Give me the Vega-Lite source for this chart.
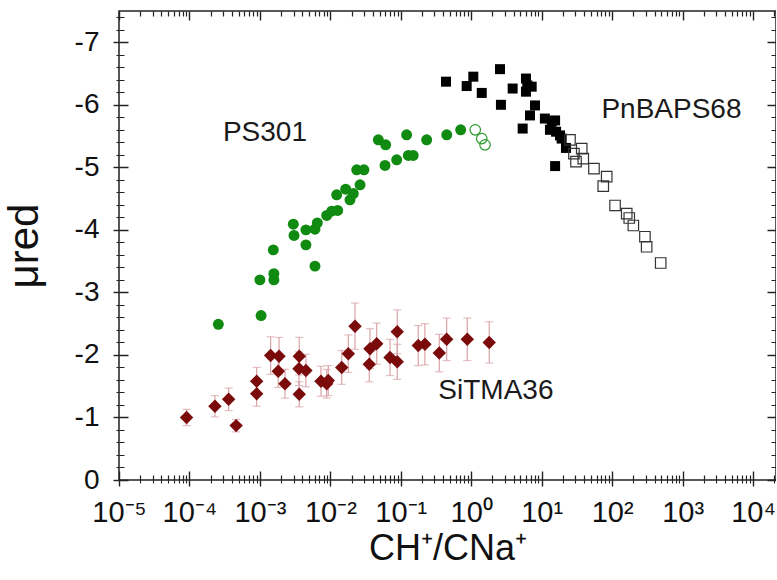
{
  "$schema": "https://vega.github.io/schema/vega-lite/v6.json",
  "width": 657,
  "height": 469,
  "autosize": "none",
  "padding": {"left": 119, "top": 11, "right": 0, "bottom": 100},
  "background": "white",
  "config": {
    "font": "Liberation Sans",
    "view": {"stroke": "#222", "strokeWidth": 1.5},
    "axis": {"domain": false, "labelColor": "#111", "titleColor": "#111", "labelFont": "Liberation Sans", "titleFont": "Liberation Sans", "titleFontWeight": "normal", "grid": false}
  },
  "datasets": {
    "ps": [
      {"x": 2.57e-4, "y": -2.49}, {"x": 1.04e-3, "y": -2.63}, {"x": 1.0e-3, "y": -3.2},
      {"x": 1.58e-3, "y": -3.2}, {"x": 1.58e-3, "y": -3.3}, {"x": 1.55e-3, "y": -3.68},
      {"x": 6.05e-3, "y": -3.42}, {"x": 4.5e-3, "y": -3.76}, {"x": 3.05e-3, "y": -3.91},
      {"x": 2.98e-3, "y": -4.09}, {"x": 4.5e-3, "y": -4.0}, {"x": 6.05e-3, "y": -4.01},
      {"x": 6.53e-3, "y": -4.11}, {"x": 8.87e-3, "y": -4.23}, {"x": 1.045e-2, "y": -4.3},
      {"x": 1.27e-2, "y": -4.31}, {"x": 1.23e-2, "y": -4.56}, {"x": 1.65e-2, "y": -4.65},
      {"x": 1.9e-2, "y": -4.48}, {"x": 2.12e-2, "y": -4.58}, {"x": 2.64e-2, "y": -4.72},
      {"x": 2.37e-2, "y": -4.96}, {"x": 3.0e-2, "y": -4.96}, {"x": 5.97e-2, "y": -5.03},
      {"x": 8.75e-2, "y": -5.12}, {"x": 0.128, "y": -5.19}, {"x": 0.15, "y": -5.19},
      {"x": 4.8e-2, "y": -5.44}, {"x": 6.1e-2, "y": -5.36}, {"x": 0.121, "y": -5.52},
      {"x": 0.233, "y": -5.44}, {"x": 0.449, "y": -5.52}, {"x": 0.708, "y": -5.6}
    ],
    "psOpen": [
      {"x": 1.14, "y": -5.6}, {"x": 1.41, "y": -5.46}, {"x": 1.57, "y": -5.36}
    ],
    "pn": [
      {"x": 0.438, "y": -6.37}, {"x": 0.861, "y": -6.3}, {"x": 1.07, "y": -6.45},
      {"x": 1.41, "y": -6.19}, {"x": 2.56, "y": -6.57}, {"x": 2.64, "y": -6.0},
      {"x": 3.87, "y": -6.26}, {"x": 5.98, "y": -6.42}, {"x": 6.25, "y": -6.31},
      {"x": 7.21, "y": -6.29}, {"x": 5.98, "y": -6.21}, {"x": 8.03, "y": -5.99},
      {"x": 6.82, "y": -5.83}, {"x": 5.37, "y": -5.62}, {"x": 11.1, "y": -5.78},
      {"x": 13.9, "y": -5.73}, {"x": 15.5, "y": -5.75}, {"x": 13.1, "y": -5.6},
      {"x": 16.0, "y": -5.57}, {"x": 18.2, "y": -5.51}, {"x": 19.2, "y": -5.46},
      {"x": 22.1, "y": -5.31}, {"x": 15.5, "y": -5.02}
    ],
    "pnOpen": [
      {"x": 25.2, "y": -5.44}, {"x": 28.7, "y": -5.22}, {"x": 37.0, "y": -5.3},
      {"x": 38.9, "y": -5.14}, {"x": 30.7, "y": -5.09}, {"x": 55.2, "y": -4.98},
      {"x": 83.7, "y": -4.85}, {"x": 74.8, "y": -4.7}, {"x": 110, "y": -4.39},
      {"x": 161, "y": -4.26}, {"x": 175, "y": -4.19}, {"x": 200, "y": -4.07},
      {"x": 292, "y": -3.89}, {"x": 309, "y": -3.73}, {"x": 489, "y": -3.47}
    ],
    "si": [
      {"x": 9.1e-5, "y": -1.0, "lo": -0.87, "hi": -1.13},
      {"x": 2.3e-4, "y": -1.18, "lo": -1.01, "hi": -1.35},
      {"x": 3.6e-4, "y": -1.29, "lo": -1.11, "hi": -1.47},
      {"x": 4.6e-4, "y": -0.87, "lo": -0.77, "hi": -0.97},
      {"x": 9.0e-4, "y": -1.58, "lo": -1.36, "hi": -1.8},
      {"x": 9.0e-4, "y": -1.38, "lo": -1.18, "hi": -1.58},
      {"x": 1.42e-3, "y": -1.99, "lo": -1.69, "hi": -2.29},
      {"x": 1.87e-3, "y": -1.98, "lo": -1.68, "hi": -2.28},
      {"x": 1.82e-3, "y": -1.74, "lo": -1.48, "hi": -2.0},
      {"x": 2.27e-3, "y": -1.54, "lo": -1.31, "hi": -1.77},
      {"x": 3.62e-3, "y": -1.98, "lo": -1.68, "hi": -2.28},
      {"x": 3.59e-3, "y": -1.78, "lo": -1.51, "hi": -2.05},
      {"x": 4.5e-3, "y": -1.75, "lo": -1.49, "hi": -2.01},
      {"x": 3.62e-3, "y": -1.37, "lo": -1.17, "hi": -1.57},
      {"x": 7.36e-3, "y": -1.58, "lo": -1.34, "hi": -1.82},
      {"x": 9.35e-3, "y": -1.59, "lo": -1.35, "hi": -1.83},
      {"x": 8.87e-3, "y": -1.54, "lo": -1.31, "hi": -1.77},
      {"x": 1.45e-2, "y": -1.8, "lo": -1.53, "hi": -2.07},
      {"x": 1.8e-2, "y": -2.02, "lo": -1.72, "hi": -2.32},
      {"x": 2.24e-2, "y": -2.46, "lo": -2.09, "hi": -2.83},
      {"x": 3.57e-2, "y": -1.85, "lo": -1.57, "hi": -2.13},
      {"x": 3.65e-2, "y": -2.1, "lo": -1.78, "hi": -2.42},
      {"x": 4.55e-2, "y": -2.18, "lo": -1.85, "hi": -2.51},
      {"x": 7.03e-2, "y": -1.96, "lo": -1.67, "hi": -2.25},
      {"x": 8.9e-2, "y": -1.89, "lo": -1.61, "hi": -2.17},
      {"x": 8.9e-2, "y": -2.37, "lo": -2.02, "hi": -2.72},
      {"x": 0.177, "y": -2.15, "lo": -1.83, "hi": -2.47},
      {"x": 0.22, "y": -2.17, "lo": -1.84, "hi": -2.5},
      {"x": 0.352, "y": -2.03, "lo": -1.73, "hi": -2.33},
      {"x": 0.448, "y": -2.25, "lo": -1.91, "hi": -2.59},
      {"x": 0.879, "y": -2.25, "lo": -1.91, "hi": -2.59},
      {"x": 1.8, "y": -2.2, "lo": -1.87, "hi": -2.53}
    ],
    "labels": [
      {"x": 1.18e-3, "y": -5.55, "t": "PS301"},
      {"x": 695, "y": -5.91, "t": "PnBAPS68"},
      {"x": 2.24, "y": -1.42, "t": "SiTMA36"}
    ]
  },
  "resolve": {"axis": {"x": "independent", "y": "independent"}},
  "layer": [
    {
      "data": {"name": "si"},
      "mark": {"type": "rule", "color": "#d9a2a8", "strokeWidth": 1.2},
      "encoding": {
        "x": {"field": "x", "type": "quantitative",
          "scale": {"type": "log", "domain": [1e-5, 21180], "nice": false},
          "axis": {
            "orient": "bottom",
            "values": [1e-5,1e-4,1e-3,1e-2,0.1,1,10,100,1000,10000],
            "zindex": 1,
            "ticks": true,
            "tickSize": 6,
            "tickColor": "#222222",
            "tickWidth": 1.4,
            "grid": true,
            "gridColor": "#222222",
            "gridWidth": 1.4,
            "gridDash": [9, 451, 9, 300],
            "labelExpr": "['10⁻⁵','10⁻⁴','10⁻³','10⁻²','10⁻¹','10⁰','10¹','10²','10³','10⁴'][round(log(datum.value)/LN10)+5]",
            "labelFontSize": 29,
            "labelPadding": 12,
            "labelFlush": false,
            "labelOverlap": false,
            "title": "CH⁺/CNa⁺",
            "titleFontSize": 36,
            "titlePadding": 4
          }
        },
        "y": {"field": "lo", "type": "quantitative",
          "scale": {"domain": [-7.5, 0], "reverse": true, "nice": false, "zero": false},
          "axis": {
            "orient": "left",
            "values": [0,-1,-2,-3,-4,-5,-6,-7],
            "zindex": 1,
            "ticks": true,
            "tickSize": 6,
            "tickColor": "#222222",
            "tickWidth": 1.4,
            "grid": true,
            "gridColor": "#222222",
            "gridWidth": 1.4,
            "gridDash": [9, 639, 9, 300],
            "labelExpr": "'' + round(datum.value)",
            "labelFontSize": 28,
            "labelPadding": 14,
            "labelFlush": false,
            "labelOverlap": false,
            "title": "μred",
            "titleFontSize": 42,
            "titlePadding": 28
          }
        },
        "y2": {"field": "hi"}
      }
    },
    {
      "data": {"name": "si"},
      "mark": {"type": "tick", "orient": "horizontal", "color": "#d9a2a8", "size": 8, "thickness": 1.2},
      "encoding": {
        "x": {"field": "x", "type": "quantitative",
          "axis": {
            "orient": "bottom",
            "values": [2e-5,3e-5,4e-5,5e-5,6e-5,7e-5,8e-5,9e-5,2e-4,3e-4,4e-4,5e-4,6e-4,7e-4,8e-4,9e-4,2e-3,3e-3,4e-3,5e-3,6e-3,7e-3,8e-3,9e-3,2e-2,3e-2,4e-2,5e-2,6e-2,7e-2,8e-2,9e-2,0.2,0.3,0.4,0.5,0.6,0.7,0.8,0.9,2,3,4,5,6,7,8,9,20,30,40,50,60,70,80,90,200,300,400,500,600,700,800,900,2000,3000,4000,5000,6000,7000,8000,9000,20000],
            "zindex": 1,
            "ticks": true,
            "tickSize": 3,
            "tickColor": "#222222",
            "tickWidth": 1.1,
            "grid": true,
            "gridColor": "#222222",
            "gridWidth": 1.2,
            "gridDash": [5, 459, 5, 300],
            "labels": false,
            "title": null
          }
        },
        "y": {"field": "lo", "type": "quantitative",
          "axis": {
            "orient": "left",
            "values": [-0.2,-0.4,-0.6,-0.8,-1.2,-1.4,-1.6,-1.8,-2.2,-2.4,-2.6,-2.8,-3.2,-3.4,-3.6,-3.8,-4.2,-4.4,-4.6,-4.8,-5.2,-5.4,-5.6,-5.8,-6.2,-6.4,-6.6,-6.8,-7.2,-7.4],
            "zindex": 1,
            "ticks": true,
            "tickSize": 3,
            "tickColor": "#222222",
            "tickWidth": 1.1,
            "grid": true,
            "gridColor": "#222222",
            "gridWidth": 1.2,
            "gridDash": [5, 647, 5, 300],
            "labels": false,
            "title": null
          }
        }
      }
    },
    {
      "data": {"name": "si"},
      "mark": {"type": "tick", "orient": "horizontal", "color": "#d9a2a8", "size": 8, "thickness": 1.2},
      "encoding": {
        "x": {"field": "x", "type": "quantitative", "axis": null},
        "y": {"field": "hi", "type": "quantitative", "axis": null}
      }
    },
    {
      "data": {"name": "si"},
      "mark": {"type": "point", "shape": "diamond", "filled": true, "color": "#7b0a0a", "size": 180, "opacity": 1},
      "encoding": {
        "x": {"field": "x", "type": "quantitative", "axis": null},
        "y": {"field": "y", "type": "quantitative", "axis": null}
      }
    },
    {
      "data": {"name": "ps"},
      "mark": {"type": "circle", "color": "#108a10", "size": 120, "opacity": 1},
      "encoding": {
        "x": {"field": "x", "type": "quantitative", "axis": null},
        "y": {"field": "y", "type": "quantitative", "axis": null}
      }
    },
    {
      "data": {"name": "psOpen"},
      "mark": {"type": "point", "shape": "circle", "filled": false, "color": "#2a9a2a", "strokeWidth": 1.2, "size": 110, "opacity": 1},
      "encoding": {
        "x": {"field": "x", "type": "quantitative", "axis": null},
        "y": {"field": "y", "type": "quantitative", "axis": null}
      }
    },
    {
      "data": {"name": "pn"},
      "mark": {"type": "square", "color": "#000000", "size": 100, "opacity": 1},
      "encoding": {
        "x": {"field": "x", "type": "quantitative", "axis": null},
        "y": {"field": "y", "type": "quantitative", "axis": null}
      }
    },
    {
      "data": {"name": "pnOpen"},
      "mark": {"type": "point", "shape": "square", "filled": false, "color": "#333333", "strokeWidth": 1.2, "size": 110, "opacity": 1},
      "encoding": {
        "x": {"field": "x", "type": "quantitative", "axis": null},
        "y": {"field": "y", "type": "quantitative", "axis": null}
      }
    },
    {
      "data": {"name": "labels"},
      "mark": {"type": "text", "fontSize": 28, "color": "#1a1a1a", "align": "center", "baseline": "middle", "font": "Liberation Sans"},
      "encoding": {
        "x": {"field": "x", "type": "quantitative", "axis": null},
        "y": {"field": "y", "type": "quantitative", "axis": null},
        "text": {"field": "t"}
      }
    }
  ]
}
